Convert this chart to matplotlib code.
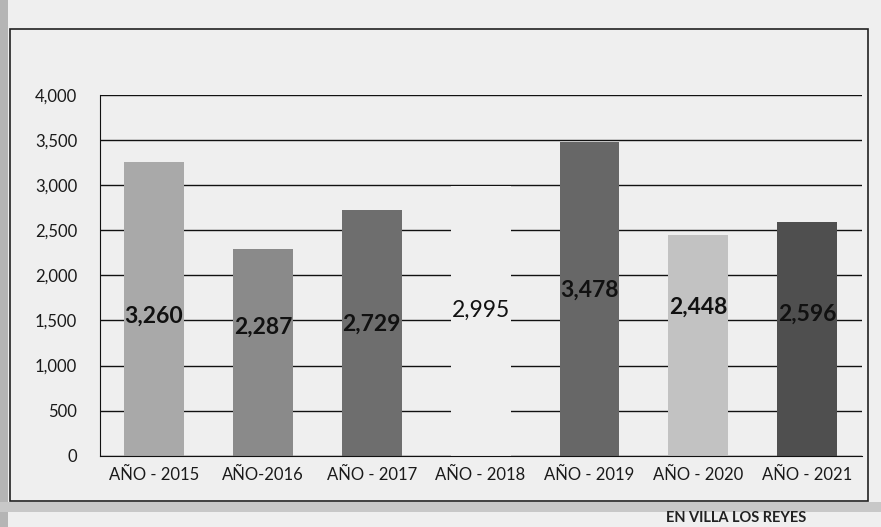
import matplotlib
matplotlib.use("Agg")
import matplotlib.pyplot as plt
from matplotlib.patches import Rectangle

# Datos del gráfico
categorias = ["AÑO - 2015", "AÑO-2016", "AÑO - 2017", "AÑO - 2018",
              "AÑO - 2019", "AÑO - 2020", "AÑO - 2021"]
valores = [3260, 2287, 2729, 2995, 3478, 2448, 2596]
etiquetas = ["3,260", "2,287", "2,729", "2,995", "3,478", "2,448", "2,596"]
ticks_y = [0, 500, 1000, 1500, 2000, 2500, 3000, 3500, 4000]

# altura donde se colocó cada etiqueta (posición, no dato)
altura_etiqueta = [1550, 1420, 1460, 1610, 1840, 1650, 1570]

fondo = "#efefef"
colores = ["#a9a9a9", "#8a8a8a", "#6e6e6e", fondo, "#676767", "#c2c2c2", "#4f4f4f"]

plt.rcParams["font.family"] = ["Lato", "DejaVu Sans"]

fig = plt.figure(figsize=(8.81, 5.27), dpi=100, facecolor=fondo)

# marco exterior del gráfico
fig.patches.append(Rectangle((0.011, 0.05), 0.974, 0.895, transform=fig.transFigure,
                             fill=False, edgecolor="#222222", linewidth=1.2))
# sombra del borde izquierdo y pliegue inferior
fig.patches.append(Rectangle((0, 0), 0.009, 1, transform=fig.transFigure,
                             color="#b5b5b5", linewidth=0))
fig.patches.append(Rectangle((0, 0.028), 1, 0.02, transform=fig.transFigure,
                             color="#c8c8c8", linewidth=0))

ax = fig.add_axes([0.113, 0.135, 0.865, 0.685])
ax.set_facecolor(fondo)

x = range(len(categorias))
barras = ax.bar(x, valores, width=0.55, color=colores, zorder=2)

for i, (b, txt) in enumerate(zip(barras, etiquetas)):
    peso = "normal" if i == 3 else "bold"
    ax.text(b.get_x() + b.get_width() / 2, altura_etiqueta[i], txt,
            ha="center", va="center", fontsize=16.5, fontweight=peso,
            color="#111111", zorder=3)

ax.set_ylim(0, 4000)
ax.set_xlim(-0.5, len(categorias) - 0.5)
ax.set_yticks(ticks_y)
ax.set_yticklabels([f"{v:,}" for v in ticks_y])
ax.set_xticks(list(x))
ax.set_xticklabels(categorias)
ax.tick_params(axis="both", length=0, labelsize=12, colors="#1a1a1a")
ax.tick_params(axis="y", pad=16)
ax.tick_params(axis="x", pad=8)

ax.grid(axis="y", color="#111111", linewidth=1.0, zorder=0)
ax.set_axisbelow(True)
for lado in ["top", "right"]:
    ax.spines[lado].set_visible(False)
ax.spines["left"].set_color("#111111")
ax.spines["bottom"].set_color("#111111")

# pie de figura en el borde inferior
fig.text(0.835, 0.003, "EN VILLA LOS REYES", ha="center", va="bottom",
         fontsize=10.5, fontweight="bold", color="#222222")

fig.savefig("out.png", dpi=100, facecolor=fondo)
